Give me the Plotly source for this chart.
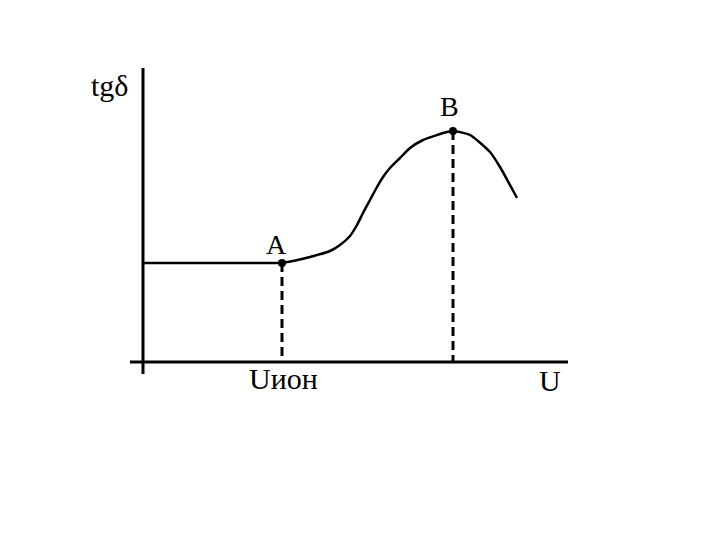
import plotly.graph_objects as go

# Curve data (U, tgδ) in arbitrary units
U_flat = [0.0, 13.9]
tg_flat = [9.9, 9.9]

U_curve = [13.9, 15.0, 16.7, 18.7, 19.7, 20.7, 21.4, 22.0, 22.7, 23.4, 24.0, 24.7,
           25.7, 26.7, 28.0, 29.4, 30.4, 31.0, 32.7, 34.7, 35.7, 37.4]
tg_curve = [9.9, 10.1, 10.5, 11.1, 11.7, 12.6, 13.7, 14.9, 16.2, 17.5, 18.5, 19.4,
            20.4, 21.4, 22.2, 22.7, 23.0, 23.1, 22.7, 21.0, 19.5, 16.4]

point_names = ["A", "B"]
point_U = [13.9, 31.0]
point_tg = [9.9, 23.1]

FONT = "Liberation Serif, Times New Roman, serif"
BLACK = "#000000"

fig = go.Figure()

# axes
fig.add_trace(go.Scatter(x=[0, 0], y=[29.4, -1.2], mode="lines",
                         line=dict(color=BLACK, width=3), hoverinfo="skip"))
fig.add_trace(go.Scatter(x=[-1.3, 42.5], y=[0, 0], mode="lines",
                         line=dict(color=BLACK, width=3), hoverinfo="skip"))

# dashed drop lines
for u, t in zip(point_U, point_tg):
    fig.add_trace(go.Scatter(x=[u, u], y=[t, 0], mode="lines",
                             line=dict(color=BLACK, width=3, dash="9px,5px"),
                             hoverinfo="skip"))

# curve
fig.add_trace(go.Scatter(x=U_flat, y=tg_flat, mode="lines",
                         line=dict(color=BLACK, width=2.5)))
fig.add_trace(go.Scatter(x=U_curve, y=tg_curve, mode="lines",
                         line=dict(color=BLACK, width=2.5, shape="spline", smoothing=0.6)))

# points
fig.add_trace(go.Scatter(x=point_U, y=point_tg, mode="markers",
                         marker=dict(color=BLACK, size=8)))

ann = dict(showarrow=False, font=dict(family=FONT, size=28, color=BLACK))
fig.add_annotation(x=point_U[0] - 0.6, y=point_tg[0] + 1.9, text=point_names[0], **ann)
fig.add_annotation(x=point_U[1] - 0.4, y=point_tg[1] + 2.5, text=point_names[1], **ann)
fig.add_annotation(x=-3.4, y=27.7, text="tgδ",
                   showarrow=False, font=dict(family=FONT, size=30, color=BLACK))
fig.add_annotation(x=40.7, y=-1.8, text="U",
                   showarrow=False, font=dict(family=FONT, size=30, color=BLACK))
fig.add_annotation(x=10.4, y=-1.6, xanchor="left",
                   text="Uион",
                   showarrow=False, font=dict(family=FONT, size=30, color=BLACK))

fig.update_layout(
    width=720, height=540,
    margin=dict(l=0, r=0, t=0, b=0),
    paper_bgcolor="white", plot_bgcolor="white",
    showlegend=False,
    xaxis=dict(range=[-13.5, 58.5], visible=False, fixedrange=True),
    yaxis=dict(range=[-18.6, 35.4], visible=False, fixedrange=True),
)

fig.write_html("out.html")
